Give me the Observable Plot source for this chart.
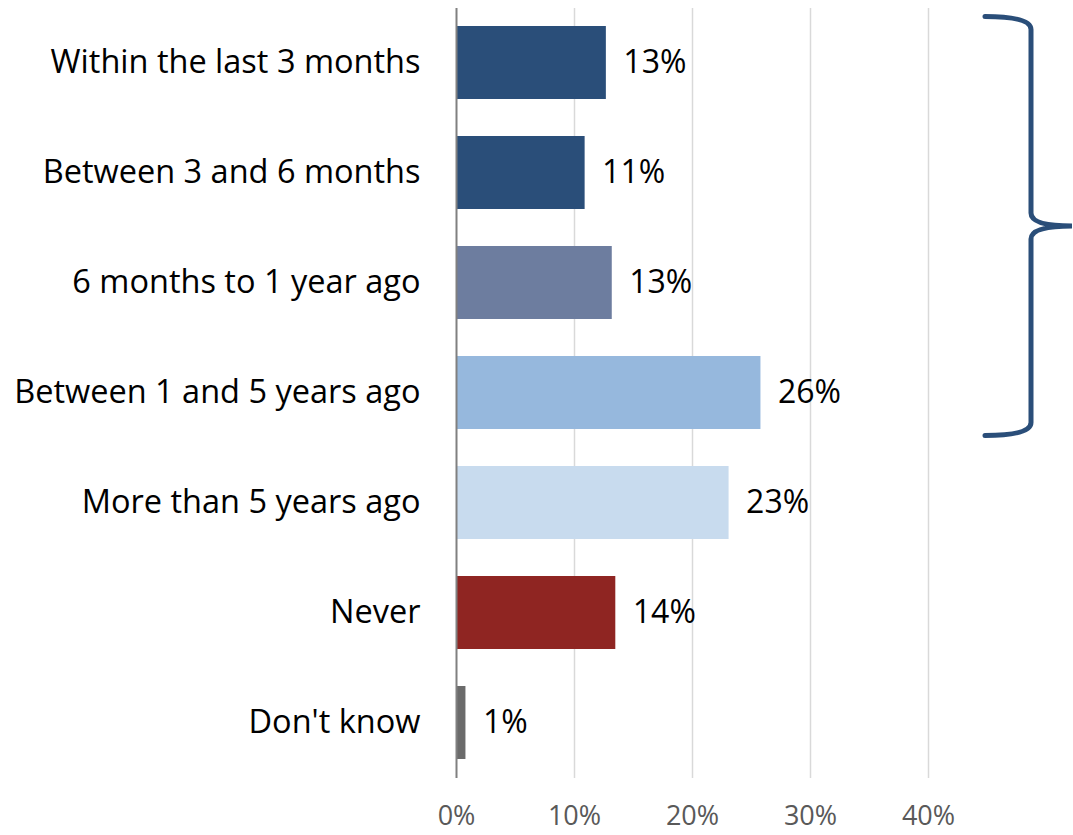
<!DOCTYPE html>
<html>
<head>
<meta charset="utf-8">
<script src="https://cdn.jsdelivr.net/npm/d3@7"></script>
<script src="https://cdn.jsdelivr.net/npm/@observablehq/plot@0.6"></script>
<style>
  html, body { margin: 0; padding: 0; background: #fff; }
  #chart svg { display: block; }
</style>
</head>
<body>
<div id="chart"></div>
<script>
const categories = [
  "Within the last 3 months",
  "Between 3 and 6 months",
  "6 months to 1 year ago",
  "Between 1 and 5 years ago",
  "More than 5 years ago",
  "Never",
  "Don't know"
];
const values = [0.127, 0.109, 0.132, 0.258, 0.231, 0.135, 0.008];
const valueLabels = ["13%", "11%", "13%", "26%", "23%", "14%", "1%"];
const colors = ["#2a4e79", "#2a4e79", "#6d7d9f", "#96b8dd", "#c8dbee", "#8f2522", "#6b6b6b"];
const xTicks = [0, 0.1, 0.2, 0.3, 0.4];
const bracedCategories = categories.slice(0, 4);

const data = categories.map((c, i) => ({category: c, value: values[i], label: valueLabels[i], color: colors[i]}));

const font = "'Open Sans', Lato, sans-serif";

function brace(index, scales, values, dimensions) {
  const y = scales.y;
  const bw = y.bandwidth();
  const step = y.step();
  const top = y(bracedCategories[0]) - (step - bw) / 2 + 9;
  const bottom = y(bracedCategories[bracedCategories.length - 1]) + bw + (step - bw) / 2 - 12;
  const mid = (top + bottom) / 2;
  const xV = dimensions.width - 42;
  const xL = xV - 46;
  const xT = dimensions.width - 1;
  const r = 13;
  const p = d3.path();
  p.moveTo(xL, top);
  p.quadraticCurveTo(xV, top, xV, top + r);
  p.lineTo(xV, mid - r);
  p.quadraticCurveTo(xV, mid, xT, mid);
  p.quadraticCurveTo(xV, mid, xV, mid + r);
  p.lineTo(xV, bottom - r);
  p.quadraticCurveTo(xV, bottom, xL, bottom);
  const path = d3.create("svg:path")
    .attr("d", p.toString())
    .attr("fill", "none")
    .attr("stroke", "#2a4e79")
    .attr("stroke-width", 5)
    .attr("stroke-linecap", "round");
  return path.node();
}

const chart = Plot.plot({
  width: 1073,
  height: 835,
  marginLeft: 456,
  marginRight: 27,
  marginTop: 8,
  marginBottom: 57,
  style: {fontFamily: font, background: "#fff"},
  x: {domain: [0, 0.5], axis: null},
  y: {domain: categories, paddingInner: 0.336, paddingOuter: 0.168, axis: null},
  marks: [
    Plot.ruleX(xTicks.slice(1), {stroke: "#d9d9d9", strokeWidth: 1.5}),
    Plot.barX(data, {x: "value", y: "category", fill: "color"}),
    Plot.ruleX([0], {stroke: "#808080", strokeWidth: 2}),
    Plot.text(data, {x: "value", y: "category", text: "label", textAnchor: "start", dx: 17, fontSize: 32, fill: "#000"}),
    Plot.axisY({tickSize: 0, tickPadding: 36, fontSize: 32.5, label: null, fill: "#000"}),
    Plot.axisX({ticks: xTicks, tickFormat: d3.format(".0%"), tickSize: 0, tickPadding: 27, fontSize: 27, fill: "#595959", label: null}),
    brace
  ]
});
document.getElementById("chart").appendChild(chart);
</script>
</body>
</html>
